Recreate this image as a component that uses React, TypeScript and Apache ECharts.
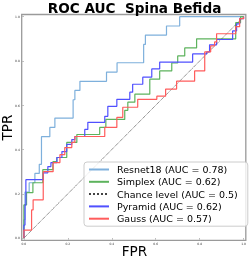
import React, { useEffect, useRef } from "react";
import * as echarts from "echarts";

const TITLE = "ROC AUC  Spina Befida";
const X_LABEL = "FPR";
const Y_LABEL = "TPR";
const TICKS = [0, 0.2, 0.4, 0.6, 0.8, 1.0];
const NAMES = [
  "Resnet18 (AUC = 0.78)",
  "Simplex (AUC = 0.62)",
  "Chance level (AUC = 0.5)",
  "Pyramid (AUC = 0.62)",
  "Gauss (AUC = 0.57)",
];

const RESNET_FPR = [0, 0, 0.005, 0.005, 0.024, 0.024, 0.05, 0.05, 0.07, 0.07, 0.08, 0.08, 0.118, 0.118, 0.141, 0.141, 0.224, 0.224, 0.232, 0.232, 0.255, 0.255, 0.376, 0.376, 0.424, 0.424, 0.545, 0.545, 0.553, 0.553, 0.649, 0.649, 0.709, 0.709, 1];
const RESNET_TPR = [0, 0.083, 0.083, 0.208, 0.208, 0.25, 0.25, 0.292, 0.292, 0.333, 0.333, 0.458, 0.458, 0.5, 0.5, 0.542, 0.542, 0.625, 0.625, 0.667, 0.667, 0.708, 0.708, 0.75, 0.75, 0.792, 0.792, 0.875, 0.875, 0.917, 0.917, 0.958, 0.958, 1, 1];

const SIMPLEX_FPR = [0, 0, 0.012, 0.012, 0.041, 0.041, 0.086, 0.086, 0.132, 0.132, 0.15, 0.15, 0.195, 0.195, 0.241, 0.241, 0.345, 0.345, 0.373, 0.373, 0.459, 0.459, 0.473, 0.473, 0.505, 0.505, 0.573, 0.573, 0.618, 0.618, 0.673, 0.673, 0.7, 0.7, 0.732, 0.732, 0.786, 0.786, 0.964, 0.964, 0.986, 0.986, 1];
const SIMPLEX_TPR = [0, 0.15, 0.15, 0.205, 0.205, 0.25, 0.25, 0.309, 0.309, 0.345, 0.345, 0.364, 0.364, 0.432, 0.432, 0.468, 0.468, 0.5, 0.5, 0.536, 0.536, 0.577, 0.577, 0.614, 0.614, 0.65, 0.65, 0.718, 0.718, 0.755, 0.755, 0.791, 0.791, 0.823, 0.823, 0.859, 0.859, 0.9, 0.9, 0.973, 0.973, 1, 1];

const CHANCE_FPR = [0, 1];
const CHANCE_TPR = [0, 1];

const PYRAMID_FPR = [0, 0, 0.005, 0.005, 0.009, 0.009, 0.088, 0.088, 0.109, 0.109, 0.123, 0.123, 0.15, 0.15, 0.173, 0.173, 0.195, 0.195, 0.218, 0.218, 0.232, 0.232, 0.277, 0.277, 0.291, 0.291, 0.368, 0.368, 0.382, 0.382, 0.423, 0.423, 0.482, 0.482, 0.495, 0.495, 0.541, 0.541, 0.582, 0.582, 0.618, 0.618, 0.768, 0.768, 0.832, 0.832, 0.845, 0.845, 0.877, 0.877, 0.95, 0.95, 0.968, 0.968, 0.982, 0.982, 1, 1];
const PYRAMID_TPR = [0, 0.059, 0.059, 0.15, 0.15, 0.264, 0.264, 0.295, 0.295, 0.323, 0.323, 0.341, 0.341, 0.364, 0.364, 0.391, 0.391, 0.423, 0.423, 0.445, 0.445, 0.459, 0.459, 0.491, 0.491, 0.523, 0.523, 0.55, 0.55, 0.595, 0.595, 0.627, 0.627, 0.659, 0.659, 0.695, 0.695, 0.727, 0.727, 0.764, 0.764, 0.795, 0.795, 0.832, 0.832, 0.841, 0.841, 0.873, 0.873, 0.897, 0.897, 0.936, 0.936, 0.968, 0.968, 0.991, 0.991, 1];

const GAUSS_FPR = [0, 0, 0.035, 0.035, 0.042, 0.042, 0.088, 0.088, 0.133, 0.133, 0.164, 0.164, 0.186, 0.186, 0.218, 0.218, 0.232, 0.232, 0.368, 0.368, 0.423, 0.423, 0.45, 0.45, 0.518, 0.518, 0.605, 0.605, 0.645, 0.645, 0.695, 0.695, 0.777, 0.777, 0.823, 0.823, 0.85, 0.85, 0.868, 0.868, 0.877, 0.877, 0.964, 0.964, 0.982, 0.982, 1, 1];
const GAUSS_TPR = [0, 0.036, 0.036, 0.127, 0.127, 0.173, 0.173, 0.3, 0.3, 0.341, 0.341, 0.377, 0.377, 0.409, 0.409, 0.432, 0.432, 0.459, 0.459, 0.5, 0.5, 0.545, 0.545, 0.591, 0.591, 0.627, 0.627, 0.641, 0.641, 0.673, 0.673, 0.709, 0.709, 0.755, 0.755, 0.841, 0.841, 0.868, 0.868, 0.886, 0.886, 0.923, 0.923, 0.955, 0.955, 0.991, 0.991, 1];

const COLORS = ["#7eb0dc", "#5db35d", "#444444", "#5050ff", "#ff5c5c"];

const zip = (xs: number[], ys: number[]) => xs.map((x, i) => [x, ys[i]]);

export default function App() {
  const ref = useRef<HTMLDivElement>(null);
  useEffect(() => {
    if (!ref.current) return;
    const chart = echarts.init(ref.current, undefined, { renderer: "svg" });
    const curves = [
      zip(RESNET_FPR, RESNET_TPR),
      zip(SIMPLEX_FPR, SIMPLEX_TPR),
      zip(CHANCE_FPR, CHANCE_TPR),
      zip(PYRAMID_FPR, PYRAMID_TPR),
      zip(GAUSS_FPR, GAUSS_TPR),
    ];
    const font = "DejaVu Sans";
    chart.setOption({
      animation: false,
      title: {
        text: TITLE,
        left: 134.5,
        top: 0.5,
        padding: 0,
        textAlign: "center",
        textStyle: { fontSize: 13.6, fontWeight: "bold", fontFamily: font, color: "#000" },
      },
      grid: {
        left: 21.7,
        top: 14.5,
        width: 225.6,
        height: 225.8,
        show: true,
        borderColor: "#9a9a9a",
        borderWidth: 1.3,
        backgroundColor: "transparent",
      },
      xAxis: {
        type: "value",
        min: -0.01,
        max: 1.01,
        axisLine: { show: false },
        splitLine: { show: false },
        axisTick: { show: true, length: 1.5, customValues: TICKS, lineStyle: { color: "#888", width: 0.6 } },
        axisLabel: {
          customValues: TICKS,
          fontSize: 3,
          margin: 1.8,
          color: "#333",
          fontFamily: font,
          formatter: (v: number) => v.toFixed(1),
        },
      },
      yAxis: {
        type: "value",
        min: -0.01,
        max: 1.01,
        axisLine: { show: false },
        splitLine: { show: false },
        axisTick: { show: true, length: 1.5, customValues: TICKS, lineStyle: { color: "#888", width: 0.6 } },
        axisLabel: {
          customValues: TICKS,
          fontSize: 3,
          margin: 1.8,
          color: "#333",
          fontFamily: font,
          formatter: (v: number) => v.toFixed(1),
        },
      },
      legend: {
        orient: "vertical",
        left: 84,
        top: 162,
        padding: [2.5, 10, 2.5, 4],
        itemWidth: 20,
        itemHeight: 12,
        itemGap: 2.3,
        borderColor: "#cccccc",
        borderWidth: 1,
        borderRadius: 3,
        backgroundColor: "rgba(255,255,255,0.8)",
        itemStyle: { opacity: 0, borderWidth: 0 },
        textStyle: { fontSize: 9.5, fontFamily: font, color: "#000", padding: [0, 0, 0, 3] },
        data: NAMES,
      },
      graphic: [
        {
          type: "text",
          x: 134.5,
          y: 251,
          style: { text: X_LABEL, font: `13.6px "${font}"`, fill: "#000", textAlign: "center", textVerticalAlign: "middle" },
        },
        {
          type: "text",
          x: 6.5,
          y: 127.5,
          rotation: Math.PI / 2,
          style: { text: Y_LABEL, font: `13.6px "${font}"`, fill: "#000", textAlign: "center", textVerticalAlign: "middle" },
        },
      ],
      series: curves.map((d, i) => ({
        type: "line",
        name: NAMES[i],
        data: d,
        symbol: "none",
        showSymbol: false,
        silent: true,
        lineStyle: {
          color: COLORS[i],
          width: i === 2 ? 0.9 : 1.2,
          type: i === 2 ? "dotted" : "solid",
        },
        itemStyle: { color: COLORS[i] },
      })),
    });
    return () => chart.dispose();
  }, []);
  return <div ref={ref} style={{ position: "fixed", left: 0, top: 0, width: 249, height: 261 }} />;
}
